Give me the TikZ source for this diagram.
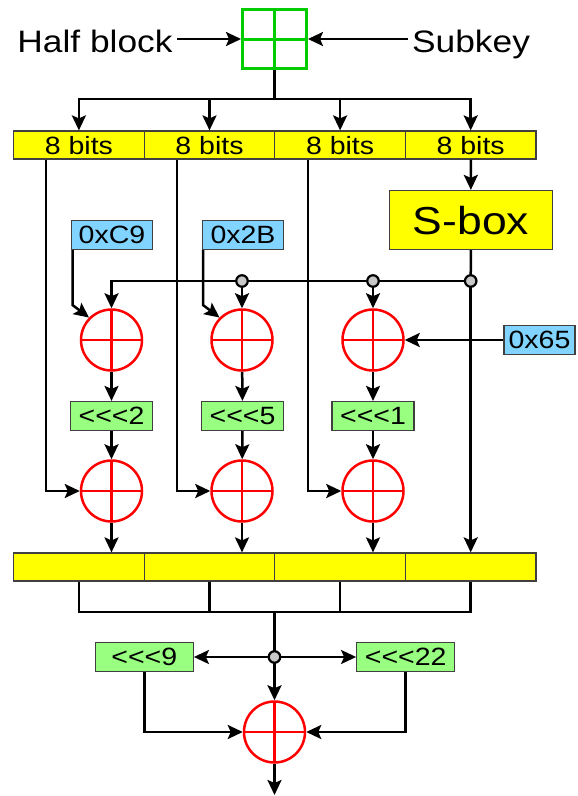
\documentclass[tikz,border=0pt]{standalone}
\usepackage{fontspec}
\setmainfont{Liberation Sans}[FakeStretch=1.14]
\usetikzlibrary{arrows.meta}
\definecolor{BitsYellow}{HTML}{FFFF00}
\definecolor{RotGreen}{HTML}{99FF80}
\definecolor{ConstBlue}{HTML}{80D4FF}
\definecolor{AddGreen}{HTML}{00CC00}
\definecolor{EdgeGrey}{HTML}{404040}
\definecolor{DotGrey}{HTML}{C8C8C8}
\newcommand\rotl{<\kern0pt<\kern0pt<}

\begin{document}
\begin{tikzpicture}[x=1pt,y=-1pt,line width=2.5pt,
  arr/.style={-{Stealth[length=15pt,width=14pt,inset=3pt]}},
  box/.style={draw=EdgeGrey,line width=1.2pt,inner sep=0pt,text depth=0pt,font=\fontsize{25}{30}\selectfont},
  bits/.style={box,fill=BitsYellow,minimum width=130.6pt,minimum height=28pt},
  rot/.style={box,fill=RotGreen,minimum width=82pt,minimum height=29pt},
  const/.style={box,fill=ConstBlue,minimum width=81pt,minimum height=29pt},
  xor/.style={circle,draw=red,line width=2.5pt,minimum size=61pt,inner sep=0pt,
    path picture={\draw[red,line width=2.5pt] (path picture bounding box.north)--(path picture bounding box.south)
      (path picture bounding box.west)--(path picture bounding box.east);}},
  dot/.style={circle,draw,fill=DotGrey,line width=2.2pt,minimum size=11.5pt,inner sep=0pt},
  lbl/.style={anchor=base,inner sep=3pt,font=\fontsize{31}{36}\selectfont}]
  \useasboundingbox (0,0) rectangle (578,796);
  % input and key addition
  \node[lbl] (half) at (95,52) {Half block}; \node[lbl] (subkey) at (471,52) {Subkey};
  \node[draw=AddGreen,line width=3pt,minimum width=64pt,minimum height=59pt,inner sep=0pt,
    path picture={\draw[AddGreen,line width=3pt] (path picture bounding box.north)--(path picture bounding box.south)
      (path picture bounding box.west)--(path picture bounding box.east);}] (add) at (274.5,39) {};
  \node[bits] (b1) at (78.9,145) {8 bits}; \node[bits] (b2) at (209.5,145) {8 bits};
  \node[bits] (b3) at (340.1,145) {8 bits}; \node[bits] (b4) at (470.7,145) {8 bits};
  \node[box,fill=BitsYellow,minimum width=163pt,minimum height=59pt,font=\fontsize{39}{44}\selectfont] (sbox) at (471,220) {S-box};
  % constants, xors and rotations
  \node[const] (c1) at (112,235) {0xC9}; \node[const] (c2) at (243,235) {0x2B}; \node[const,minimum width=71pt] (c3) at (539.5,340) {0x65};
  \node[xor] (x1) at (111.5,340) {}; \node[xor] (x2) at (242,340) {}; \node[xor] (x3) at (373,340) {};
  \node[rot] (r1) at (111.5,416) {\rotl2}; \node[rot] (r2) at (242.5,416) {\rotl5}; \node[rot] (r3) at (373,416) {\rotl1};
  \node[xor] (y1) at (111.5,491) {}; \node[xor] (y2) at (242,491) {}; \node[xor] (y3) at (373,491) {};
  \node[bits] (o1) at (78.9,567) {}; \node[bits] (o2) at (209.5,567) {};
  \node[bits] (o3) at (340.1,567) {}; \node[bits] (o4) at (470.7,567) {};
  \node[rot,minimum width=98pt] (r4) at (144.3,657) {\rotl9}; \node[rot,minimum width=98pt] (r5) at (405.7,657) {\rotl22};
  \node[xor] (z) at (274.5,732) {};
  \coordinate (split) at (274.5,99); \coordinate (j2) at (242,281); \coordinate (j3) at (373,281); \coordinate (j4) at (470.7,281);
  \coordinate (k1) at (72.5,305); \coordinate (k2) at (203,305);
  \coordinate (p1) at (46,491); \coordinate (p2) at (177,491); \coordinate (p3) at (308,491);
  \coordinate (join) at (274.5,612); \coordinate (j5) at (274.5,657); \coordinate (out) at (274.5,795);
  % connectors
  \draw[arr] (add.west -| half.east) -- (add.west); \draw[arr] (add.east -| subkey.west) -- (add.east);
  \draw (add) -- (split);
  \draw[arr] (split) -| (b1); \draw[arr] (split) -| (b2); \draw[arr] (split) -| (b3); \draw[arr] (split) -| (b4);
  \draw[arr] (b4) -- (sbox); \draw (sbox) -- (j4); \draw[arr] (j4) -- (j4 |- o4.north);
  \draw[arr] (j4) -| (x1); \draw[arr] (j2) -- (x2); \draw[arr] (j3) -- (x3);
  \draw[arr] (c1.south -| k1) -- (k1) -- (x1.135); \draw[arr] (c2.south -| k2) -- (k2) -- (x2.135);
  \draw[arr] (c3) -- (x3);
  \draw[arr] (x1) -- (r1); \draw[arr] (r1) -- (y1); \draw[arr] (x2) -- (r2); \draw[arr] (r2) -- (y2);
  \draw[arr] (x3) -- (r3); \draw[arr] (r3) -- (y3);
  \draw[arr] (b1.south -| p1) |- (y1); \draw[arr] (b2.south -| p2) |- (y2); \draw[arr] (b3.south -| p3) |- (y3);
  \draw[arr] (y1) -- (y1 |- o1.north); \draw[arr] (y2) -- (y2 |- o2.north); \draw[arr] (y3) -- (y3 |- o3.north);
  \draw (o1.south) |- (join) -| (o4.south); \draw (o2.south) -- (o2.south |- join); \draw (o3.south) -- (o3.south |- join);
  \draw (join) -- (j5); \draw[arr] (j5) -- (r4); \draw[arr] (j5) -- (r5); \draw[arr] (j5) -- (z);
  \draw[arr] (r4) |- (z); \draw[arr] (r5) |- (z); \draw[arr] (z) -- (out);
  \node[dot] (dot2) at (j2) {}; \node[dot] (dot3) at (j3) {}; \node[dot] (dot4) at (j4) {}; \node[dot] (dot5) at (j5) {};
\end{tikzpicture}
\end{document}
